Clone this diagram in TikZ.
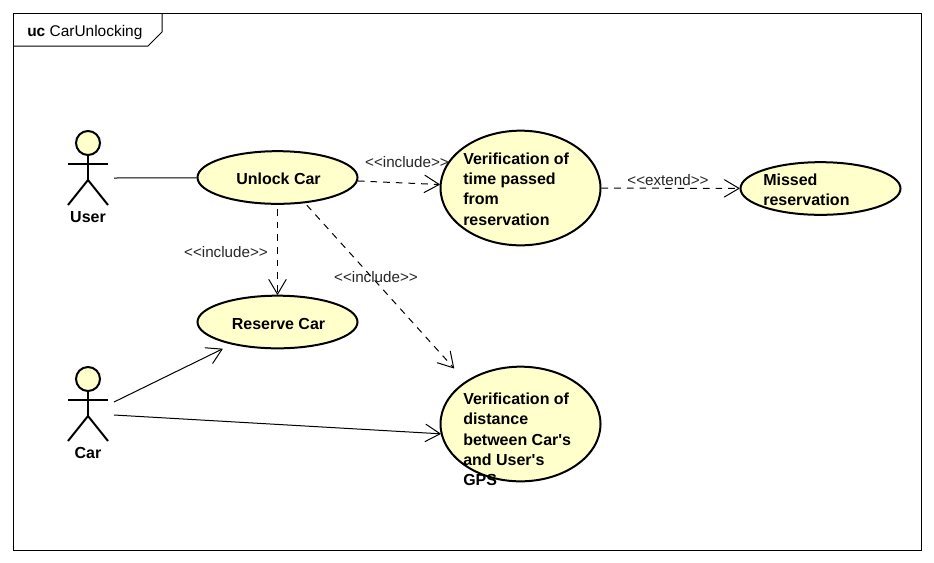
\documentclass[tikz,border=0pt]{standalone}
\usepackage{fontspec}
\newfontfamily\ucfont{Liberation Sans}
\usetikzlibrary{arrows.meta,calc,shapes.geometric}
\definecolor{CaseYellow}{HTML}{FFFFCC}
\tikzset{
  ucsmall/.style={draw=black, fill=CaseYellow, ellipse, line width=1.5pt, minimum width=120pt, minimum height=39.5pt, inner sep=0pt},
  ucbig/.style={draw=black, fill=CaseYellow, ellipse, line width=1.5pt, minimum width=120pt, minimum height=86pt, inner sep=0pt},
  uctext/.style={align=left, anchor=west, inner sep=0pt, font=\ucfont\fontsize{12}{15.2}\selectfont\bfseries},
  uclabel/.style={inner sep=0pt, text=black!85, font=\ucfont\fontsize{11.4}{14}\selectfont},
  actorhead/.style={draw=black, fill=CaseYellow, circle, line width=1.5pt, minimum size=18pt, inner sep=0pt},
  actorline/.style={draw=black, line width=1.5pt},
  ucarrow/.style={-{Straight Barb[length=11pt,width=13pt,round=false]}, line width=0.75pt},
  ucdash/.style={ucarrow, dash pattern=on 5pt off 4.5pt}
}
\begin{document}
\begin{tikzpicture}[x=0.75pt,y=-0.75pt]
  \useasboundingbox (0,0) rectangle (934,562);
  \fill[white] (0,0) rectangle (934,562);
  \draw[line width=0.75pt] (13.5,13.5) rectangle (921,550);
  \draw[line width=0.75pt] (13.5,46) -- (148,46) -- (162,32) -- (162,13.5);
  \node[anchor=west, inner sep=0pt, font=\ucfont\fontsize{11.6}{14}\selectfont] (frameTitle) at (27,32) {\textbf{uc} CarUnlocking};

  \foreach \name/\ypos/\txt in {user/143/User,car/379/Car} {
    \node[actorhead] (\name Head) at (88,\ypos) {};
    \coordinate (\name Hip) at (88,\ypos+37);
    \draw[actorline] (\name Head) -- (\name Hip);
    \draw[actorline] (68,\ypos+21) -- (108,\ypos+21);
    \draw[actorline] (68,\ypos+62) -- (\name Hip) -- (108,\ypos+62);
    \node[uctext, anchor=center] (\name) at (88,\ypos+74) {\txt};
  }

  \node[ucsmall] (unlock) at (277.5,177.5) {};
  \node[ucbig] (time) at (520.5,188) {};
  \node[ucsmall] (missed) at (820.5,188.5) {};
  \node[ucsmall] (reserve) at (277.5,322) {};
  \node[ucbig] (dist) at (520.5,424) {};
  \node[uctext, anchor=center] (unlockText) at (278.5,179) {Unlock Car};
  \node[uctext, anchor=center] (reserveText) at (278.5,323.5) {Reserve Car};
  \node[uctext] (timeText) at (463,189) {Verification of\\time passed\\from\\reservation};
  \node[uctext] (missedText) at (763,189.5) {Missed\\reservation};
  \node[uctext] (distText) at (463,439.5) {Verification of\\distance\\between Car's\\and User's\\GPS};

  \coordinate (userEnd) at (114,178);
  \coordinate (carTop) at (114,402);
  \coordinate (carLow) at (114,415);
  \draw[line width=0.75pt] (userEnd) -- (unlock);
  \draw[ucarrow, shorten >=7.5pt] (carTop) -- (reserve);
  \draw[ucarrow] (carLow) -- (dist.187);
  \draw[ucdash] (unlock) -- (time);
  \draw[ucdash] (time) -- (missed);
  \draw[ucdash, shorten <=3pt] (unlock) -- (reserve);
  \draw[ucdash, shorten <=2pt, shorten >=13pt] (unlock.-43) -- (dist.142);

  \node[uclabel] (incTime) at (407,162) {<<include>>};
  \node[uclabel] (extMissed) at (668,180) {<<extend>>};
  \node[uclabel] (incReserve) at (226,252) {<<include>>};
  \node[uclabel] (incDist) at (376,277) {<<include>>};
\end{tikzpicture}
\end{document}
